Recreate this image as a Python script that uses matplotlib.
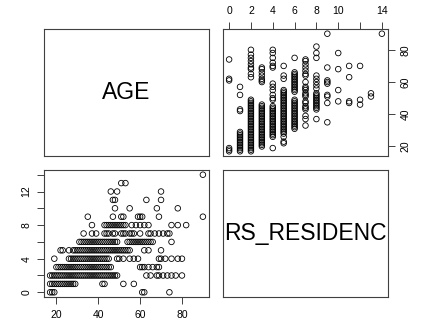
import matplotlib
matplotlib.use("Agg")
import matplotlib.pyplot as plt

plt.rcParams['font.family'] = ['Liberation Sans', 'DejaVu Sans']

VAR_NAMES = ["AGE", "RS_RESIDENC"]

# ages, grouped by RS_RESIDENC value
ages_by_residence = {
    0: [17, 18, 19, 61, 62, 74],
    1: [17, 18, 19, 20, 21, 22, 23, 24, 25, 26, 27, 28, 29, 42, 43, 52, 57],
    2: [17, 18, 19, 20, 21, 22, 23, 24, 25, 26, 27, 28, 29, 30, 31, 32, 33, 34,
        35, 36, 37, 38, 39, 40, 41, 42, 43, 44, 45, 46, 47, 48, 49,
        63, 65, 68, 69, 71, 73, 75, 77, 80],
    3: [20, 21, 22, 23, 24, 25, 26, 27, 28, 29, 30, 31, 32, 33, 34, 35, 36, 37,
        38, 39, 40, 41, 42, 43, 44, 45, 46, 60, 61, 62, 64, 66, 68, 69],
    4: [19, 26, 27, 28, 29, 30, 31, 32, 33, 34, 35, 36, 37, 38, 39, 40, 41, 42,
        43, 44, 45, 49, 50, 52, 55, 57, 59, 69, 70, 72, 75, 78, 80],
    5: [22, 23, 26, 28, 29, 30, 31, 32, 33, 34, 35, 36, 37, 38, 39, 40, 41, 42,
        43, 44, 45, 46, 47, 48, 49, 50, 51, 52, 53, 54, 55, 62, 64, 70],
    6: [31, 32, 33, 34, 35, 36, 37, 38, 39, 40, 41, 42, 43, 44, 45, 46, 47, 48,
        49, 54, 55, 56, 57, 58, 59, 60, 61, 62, 63, 64, 65, 66, 75],
    7: [33, 37, 39, 43, 44, 45, 47, 48, 51, 52, 53, 55, 56, 57, 60, 64, 65,
        67, 69, 71, 73, 74],
    8: [37, 43, 44, 45, 46, 47, 48, 49, 50, 51, 52, 53, 56, 58, 60, 62, 64,
        75, 78, 82],
    9: [35, 47, 51, 52, 59, 60, 61, 69, 90],
    10: [48, 55, 68, 78],
    11: [47, 48, 63, 70],
    12: [46, 49, 70],
    13: [51, 53],
    14: [90],
}

age = []
residence = []
for r, ages in ages_by_residence.items():
    for a in ages:
        age.append(a)
        residence.append(r)

W, H = 421, 327
fig = plt.figure(figsize=(W / 100, H / 100), dpi=100)


def panel(x0, y0, x1, y1):
    ax = fig.add_axes([x0 / W, 1 - y1 / H, (x1 - x0) / W, (y1 - y0) / H])
    for s in ax.spines.values():
        s.set_color("#404040")
        s.set_linewidth(0.8)
    return ax


def rlim(v):
    lo, hi = min(v), max(v)
    pad = (hi - lo) * 0.04
    return lo - pad, hi + pad


cols = [(44, 209), (223, 388)]
rows = [(29, 156), (170, 297)]

tick_kw = dict(labelsize=7.5, length=5, width=0.7, color="#404040", pad=4)

# diagonal: variable names
for i, name in enumerate(VAR_NAMES):
    ax = panel(cols[i][0], rows[i][0], cols[i][1], rows[i][1])
    ax.set_xticks([])
    ax.set_yticks([])
    ax.text(0.5, 0.5, name, transform=ax.transAxes, ha="center", va="center",
            fontsize=16.5, clip_on=False)

# top right: RS_RESIDENC vs AGE
ax = panel(cols[1][0], rows[0][0], cols[1][1], rows[0][1])
ax.scatter(residence, age, s=16, facecolors="none", edgecolors="black",
           linewidths=0.6)
ax.set_xlim(*rlim(residence))
ax.set_ylim(*rlim(age))
ax.xaxis.tick_top()
ax.yaxis.tick_right()
ax.set_xticks([0, 2, 4, 6, 8, 10, 12, 14])
ax.set_xticklabels(["0", "2", "4", "6", "8", "10", "", "14"])
ax.set_yticks([20, 40, 60, 80])
ax.set_yticklabels(["20", "40", "60", "80"], rotation=90, va="center")
ax.tick_params(**tick_kw)

# bottom left: AGE vs RS_RESIDENC
ax = panel(cols[0][0], rows[1][0], cols[0][1], rows[1][1])
ax.scatter(age, residence, s=16, facecolors="none", edgecolors="black",
           linewidths=0.6)
ax.set_xlim(*rlim(age))
ax.set_ylim(*rlim(residence))
ax.set_xticks([20, 40, 60, 80])
ax.set_yticks([0, 2, 4, 6, 8, 10, 12, 14])
ax.set_yticklabels(["0", "", "4", "", "8", "", "12", ""], rotation=90,
                   va="center")
ax.tick_params(**tick_kw)

fig.savefig("out.png", dpi=100)
